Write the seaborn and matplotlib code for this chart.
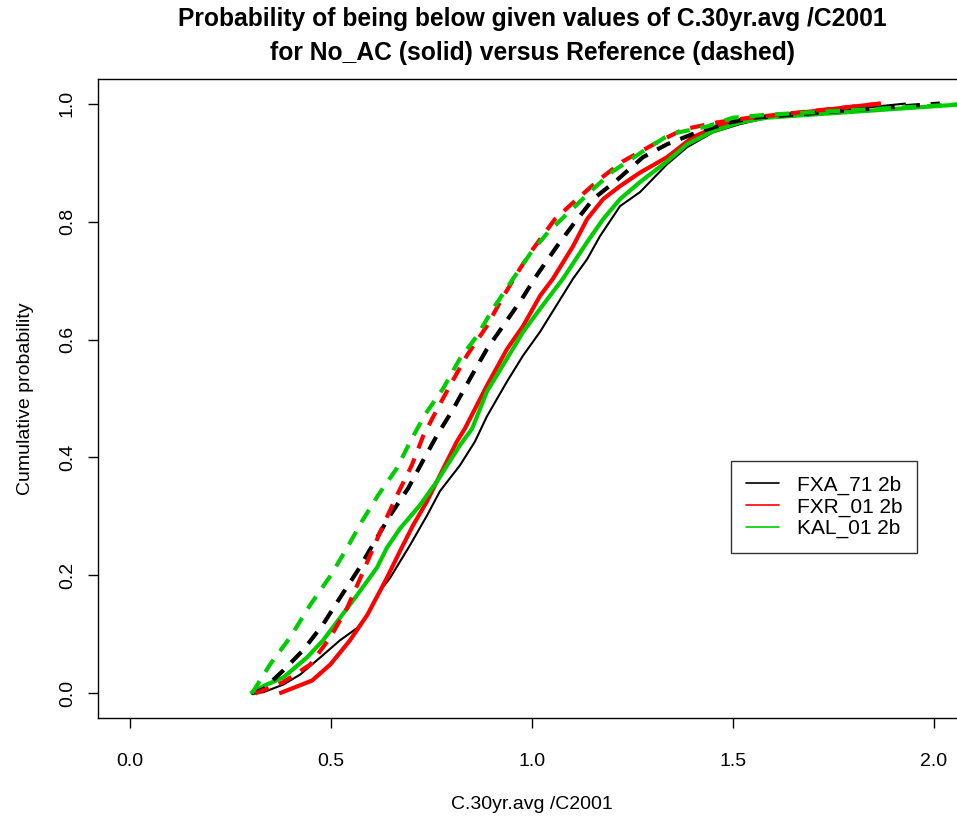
import matplotlib
matplotlib.use("Agg")
import matplotlib.pyplot as plt
from matplotlib.lines import Line2D
import seaborn as sns
import pandas as pd

# ---- data ----
series_names = ["FXA_71 2b", "FXR_01 2b", "KAL_01 2b"]
series_colors = ["#000000", "#FF0000", "#00CD00"]

# No_AC (solid)
fxa_noac_x = [0.303, 0.331, 0.381, 0.423, 0.473, 0.522, 0.565, 0.590, 0.622, 0.647, 0.697, 0.739,
              0.771, 0.821, 0.858, 0.888, 0.938, 0.978, 1.020, 1.102, 1.137, 1.169, 1.219, 1.269,
              1.336, 1.386, 1.450, 1.517, 1.585, 1.930]
fxa_noac_y = [0.000, 0.002, 0.015, 0.032, 0.061, 0.090, 0.111, 0.133, 0.174, 0.196, 0.252, 0.302,
              0.343, 0.387, 0.427, 0.470, 0.529, 0.573, 0.613, 0.703, 0.736, 0.775, 0.826, 0.850,
              0.897, 0.926, 0.951, 0.965, 0.976, 1.000]

fxr_noac_x = [0.371, 0.453, 0.498, 0.547, 0.590, 0.622, 0.639, 0.672, 0.704, 0.739, 0.771, 0.813,
              0.833, 0.888, 0.938, 0.978, 1.020, 1.052, 1.102, 1.137, 1.177, 1.219, 1.269, 1.336,
              1.400, 1.460, 1.525, 1.585, 1.866]
fxr_noac_y = [0.000, 0.022, 0.049, 0.090, 0.133, 0.174, 0.196, 0.242, 0.285, 0.326, 0.370, 0.427,
              0.449, 0.522, 0.584, 0.623, 0.674, 0.703, 0.758, 0.804, 0.838, 0.860, 0.883, 0.909,
              0.943, 0.961, 0.973, 0.978, 1.000]

kal_noac_x = [0.299, 0.336, 0.381, 0.440, 0.480, 0.522, 0.565, 0.614, 0.639, 0.672, 0.721, 0.764,
              0.821, 0.851, 0.888, 0.938, 0.978, 1.020, 1.077, 1.137, 1.177, 1.219, 1.269, 1.336,
              1.386, 1.450, 1.517, 1.585, 2.100]
kal_noac_y = [0.000, 0.014, 0.027, 0.061, 0.090, 0.128, 0.167, 0.213, 0.247, 0.280, 0.319, 0.360,
              0.421, 0.449, 0.512, 0.568, 0.613, 0.652, 0.703, 0.765, 0.804, 0.838, 0.867, 0.902,
              0.931, 0.953, 0.968, 0.976, 1.000]

# Reference (dashed)
fxa_ref_x = [0.303, 0.331, 0.381, 0.430, 0.480, 0.522, 0.567, 0.609, 0.647, 0.692, 0.729, 0.764,
             0.803, 0.846, 0.888, 0.928, 0.975, 1.012, 1.062, 1.107, 1.152, 1.211, 1.276, 1.336,
             1.410, 1.493, 1.550, 2.015]
fxa_ref_y = [0.000, 0.007, 0.039, 0.073, 0.117, 0.162, 0.209, 0.258, 0.302, 0.348, 0.395, 0.438,
             0.481, 0.534, 0.584, 0.623, 0.669, 0.709, 0.758, 0.799, 0.838, 0.870, 0.909, 0.931,
             0.951, 0.968, 0.976, 1.000]

fxr_ref_x = [0.311, 0.381, 0.448, 0.498, 0.540, 0.575, 0.602, 0.634, 0.667, 0.701, 0.729, 0.761,
             0.796, 0.838, 0.888, 0.925, 0.970, 1.002, 1.057, 1.112, 1.169, 1.226, 1.311, 1.376,
             1.460, 1.542, 1.870]
fxr_ref_y = [0.000, 0.019, 0.049, 0.095, 0.145, 0.199, 0.242, 0.292, 0.340, 0.387, 0.436, 0.478,
             0.522, 0.573, 0.623, 0.669, 0.720, 0.753, 0.804, 0.838, 0.872, 0.902, 0.934, 0.956,
             0.968, 0.976, 1.000]

kal_ref_x = [0.303, 0.348, 0.398, 0.448, 0.500, 0.540, 0.577, 0.617, 0.664, 0.697, 0.734, 0.779,
             0.821, 0.863, 0.903, 0.953, 0.995, 1.040, 1.095, 1.152, 1.201, 1.276, 1.343, 1.435,
             1.500, 1.585, 2.100]
kal_ref_y = [0.000, 0.049, 0.095, 0.150, 0.201, 0.247, 0.292, 0.336, 0.382, 0.427, 0.473, 0.517,
             0.568, 0.606, 0.652, 0.703, 0.745, 0.782, 0.818, 0.855, 0.885, 0.919, 0.948, 0.961,
             0.976, 0.981, 1.000]

x_ticks = [0.0, 0.5, 1.0, 1.5, 2.0]
y_ticks = [0.0, 0.2, 0.4, 0.6, 0.8, 1.0]

title = ("Probability of being below given values of C.30yr.avg /C2001\n"
         "for No_AC (solid) versus Reference (dashed)")
x_label = "C.30yr.avg /C2001"
y_label = "Cumulative probability"

# ---- build table ----
frames = []
solid = [(fxa_noac_x, fxa_noac_y), (fxr_noac_x, fxr_noac_y), (kal_noac_x, kal_noac_y)]
dashed = [(fxa_ref_x, fxa_ref_y), (fxr_ref_x, fxr_ref_y), (kal_ref_x, kal_ref_y)]
for name, (xs, ys) in zip(series_names, solid):
    frames.append(pd.DataFrame({"x": xs, "y": ys, "series": name, "run": "No_AC"}))
for name, (xs, ys) in zip(series_names, dashed):
    frames.append(pd.DataFrame({"x": xs, "y": ys, "series": name, "run": "Reference"}))
df = pd.concat(frames, ignore_index=True)

# ---- plot ----
sns.set_style("white")
plt.rcParams["font.family"] = ["Liberation Sans", "DejaVu Sans"]
plt.rcParams["text.color"] = "black"
plt.rcParams["axes.labelcolor"] = "black"
plt.rcParams["xtick.color"] = "black"
plt.rcParams["ytick.color"] = "black"

fig = plt.figure(figsize=(9.57, 8.19), dpi=100)
ax = fig.add_axes([98 / 957, 1 - 718 / 819, (966 - 98) / 957, (718 - 79) / 819])

color_map = dict(zip(series_names, series_colors))
for run in ["No_AC", "Reference"]:
    for name in series_names:
        sub = df[(df["series"] == name) & (df["run"] == run)]
        if run == "No_AC":
            lw = 1.5 if name == "FXA_71 2b" else 3.0
            ls = "-"
        else:
            lw = 3.0
            ls = (0, (3.5, 2.6))
        sns.lineplot(data=sub, x="x", y="y", ax=ax, color=color_map[name],
                     linewidth=lw, linestyle=ls, estimator=None, sort=False,
                     legend=False, solid_capstyle="butt", dash_capstyle="butt")

ax.set_xlim(-0.08, 2.08)
ax.set_ylim(-0.0416, 1.0416)
ax.set_xticks(x_ticks)
ax.set_xticklabels([f"{t:.1f}" for t in x_ticks])
ax.set_yticks(y_ticks)
ax.set_yticklabels([f"{t:.1f}" for t in y_ticks], rotation=90, va="center")

for sp in ax.spines.values():
    sp.set_visible(True)
    sp.set_color("black")
    sp.set_linewidth(1.0)

ax.tick_params(axis="both", which="both", direction="out", length=7, width=1,
               color="black", labelsize=14, labelcolor="black", bottom=True, left=True)
ax.tick_params(axis="x", pad=18)
ax.tick_params(axis="y", pad=9)

ax.set_xlabel(x_label, fontsize=14, labelpad=19, color="black")
ax.set_ylabel(y_label, fontsize=14, labelpad=18, color="black")
ax.set_title(title, fontsize=17.7, fontweight="bold", pad=14, linespacing=1.5,
             color="black")

handles = [Line2D([0], [0], color=c, lw=1.2) for c in series_colors]
leg = ax.legend(handles, series_names, loc="upper left",
                bbox_to_anchor=((731 - 98) / 868, 1 - (461 - 79) / 639),
                frameon=True, fancybox=False, fontsize=15, handlelength=1.6,
                handletextpad=0.85, borderpad=0.7, labelspacing=0.12, borderaxespad=0)
leg.get_frame().set_edgecolor("black")
leg.get_frame().set_linewidth(1.0)
for t in leg.get_texts():
    t.set_color("black")

fig.savefig("out.png", dpi=100)
